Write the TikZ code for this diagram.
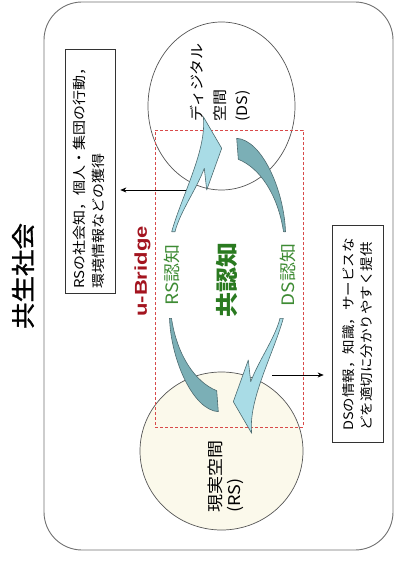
\documentclass[tikz,border=0pt]{standalone}
\usepackage{fontspec}
\setmainfont{Noto Sans CJK JP}
\newfontfamily\titlefont[FakeBold=1.2]{Noto Sans CJK JP}
\newfontfamily\lat{Liberation Sans}
\usetikzlibrary{arrows.meta,shapes.geometric}
\definecolor{frameg}{HTML}{707070}
\definecolor{lblue}{HTML}{A9DCE6}
\definecolor{dteal}{HTML}{7BAFB6}
\definecolor{aedge}{HTML}{4D6B70}
\definecolor{cream}{HTML}{FBF9EB}
\definecolor{dred}{HTML}{A3141F}
\definecolor{rsgreen}{HTML}{3D8B33}
\definecolor{kgreen}{HTML}{2A7A20}
\definecolor{dashred}{HTML}{D94A4A}
\definecolor{circg}{HTML}{555555}
\begin{document}
\begin{tikzpicture}[x=1pt,y=-1pt,
  txt/.style={rotate=90, yscale=0.9, inner sep=0pt},
  boxst/.style={draw=black!80, line width=0.7pt, inner sep=0pt},
  circst/.style={ellipse, draw=circg, line width=0.7pt, inner sep=0pt},
  blockarrow/.style={draw=aedge, line width=0.6pt, line join=round},
  conn/.style={draw=black, line width=0.6pt, -{Stealth[length=6pt,width=5pt]}}]
\useasboundingbox (0,0) rectangle (395,561);
% frame
\node[draw=frameg, line width=0.9pt, rounded corners=38pt, minimum width=349pt, minimum height=548pt, inner sep=0pt] (frame) at (218.5,276) {};
\node[txt, font=\titlefont\fontsize{26.5}{30}\selectfont] (title) at (23,276) {共生社会};
% boxes
\node[boxst, minimum width=50pt, minimum height=244pt] (lbox) at (90,171) {};
\node[txt, anchor=west, align=left, font=\fontsize{15}{20.5}\selectfont] (ltext) at (89,289) {RSの社会知，個人・集団の行動，\\環境情報などの獲得};
\node[boxst, minimum width=51pt, minimum height=217pt] (rbox) at (357.5,333.5) {};
\node[txt, anchor=west, align=left, font=\fontsize{14.5}{20.5}\selectfont] (rtext) at (357.5,431) {DSの情報，知識，サービスな\\どを適切に分かりやすく提供};
% circles
\node[circst, fill=white, minimum width=147pt, minimum height=168pt] (ds) at (221.5,106) {};
\node[circst, fill=cream, minimum width=163pt, minimum height=158pt] (rs) at (221.5,451) {};
% bridge
\node[draw=dashred, line width=0.7pt, dash pattern=on 3pt off 2pt, minimum width=148pt, minimum height=297pt, inner sep=0pt] (bridge) at (229,278.5) {};
% block arrows
\newcommand{\lbshape}{(171.7,231.7) .. controls (182,195) and (207,150) .. (203.3,116.7) -- (221.7,148.3) -- (206.7,190) -- (204.3,168.3) .. controls (196,190) and (180,212) .. (175,231.7) -- cycle}
\newcommand{\dtshape}{(236.7,138.3) .. controls (262,140) and (284,190) .. (285.5,231.7) -- (283.5,231.7) .. controls (278,195) and (260,168) .. (238.3,159.3) -- cycle}
\path[blockarrow, fill=lblue] \lbshape;
\path[blockarrow, fill=dteal] \dtshape;
\begin{scope}[rotate around={180:(227.5,275)}]
\path[blockarrow, fill=lblue] \lbshape;
\path[blockarrow, fill=dteal] \dtshape;
\end{scope}
% connectors
\coordinate (p1) at (186,190);
\draw[conn, shorten >=5pt] (p1) -- (p1 -| lbox.east);
\coordinate (p2) at (272,375);
\draw[conn, shorten >=8pt] (p2) -- (p2 -| rbox.west);
% circle texts
\node[txt, anchor=west, align=left, font=\fontsize{16}{25}\selectfont] (dstext) at (220.5,122) {ディジタル\\空間\\(DS)};
\node[txt, anchor=west, align=left, font=\fontsize{18}{21}\selectfont] (rstext) at (226,513) {現実空間\\(RS)};
% center texts
\node[rotate=90, yscale=0.78, inner sep=0pt, text=dred, font=\lat\fontsize{22}{24}\selectfont\bfseries] (ub) at (142.5,271.5) {u-Bridge};
\node[txt, text=rsgreen, font=\fontsize{19}{22}\selectfont] (rsn) at (172,275) {RS認知};
\node[txt, text=kgreen, font=\fontsize{25}{28}\selectfont\bfseries] (kn) at (227,280) {共認知};
\node[txt, text=rsgreen, font=\fontsize{19}{22}\selectfont] (dsn) at (287.5,275) {DS認知};
\end{tikzpicture}
\end{document}
